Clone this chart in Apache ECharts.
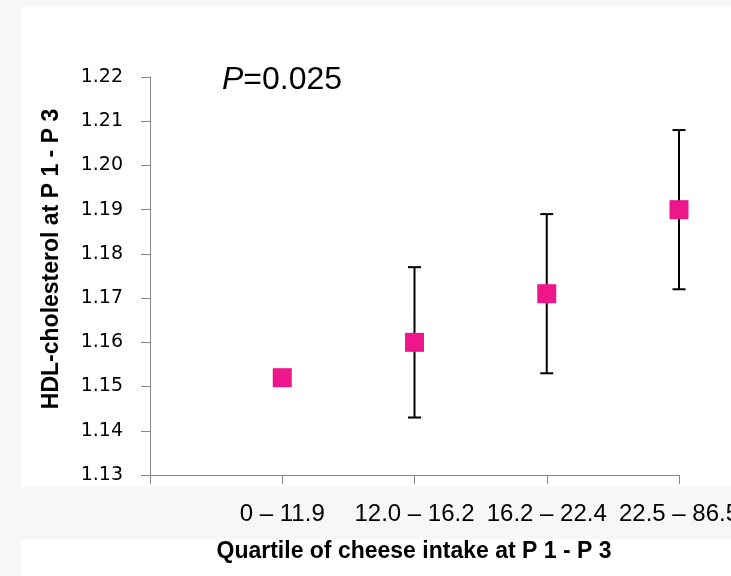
<!DOCTYPE html>
<html>
<head>
<meta charset="utf-8">
<script src="https://cdn.jsdelivr.net/npm/echarts@6/dist/echarts.min.js"></script>
<style>
  html, body { margin: 0; padding: 0; background: #f7f7f7; }
  #chart { width: 731px; height: 576px; }
</style>
</head>
<body>
<div id="chart"></div>
<script>
// Quartiles of cheese intake (x categories)
const categories = ['0 \u2013 11.9', '12.0 \u2013 16.2', '16.2 \u2013 22.4', '22.5 \u2013 86.5'];
// Mean HDL-cholesterol per quartile
const means = [1.152, 1.160, 1.171, 1.190];
// Error bar limits (none drawn for the first quartile)
const lowerLimits = [null, 1.143, 1.153, 1.172];
const upperLimits = [null, 1.177, 1.189, 1.208];
// Y axis range
const yMin = 1.13, yMax = 1.22, yStep = 0.01;

const pointData = means.map((v, i) => [i + 1, v]);
const errorData = means
  .map((v, i) => [i + 1, lowerLimits[i], upperLimits[i]])
  .filter(d => d[1] != null && d[2] != null);

const axisColor = '#868686';
const chart = echarts.init(document.getElementById('chart'), null, { renderer: 'canvas' });

chart.setOption({
  backgroundColor: '#f7f7f7',
  animation: false,
  grid: { left: 150, right: 52, top: 77, bottom: 101, containLabel: false, outerBoundsMode: 'none' },
  xAxis: {
    type: 'value',
    min: 0, max: categories.length, interval: 1,
    splitLine: { show: false },
    axisLine: { lineStyle: { color: axisColor, width: 1 } },
    axisTick: { show: true, length: 9, lineStyle: { color: axisColor, width: 1 } },
    axisLabel: {
      margin: 27,
      showMinLabel: true, showMaxLabel: true,
      hideOverlap: false,
      color: '#000',
      fontFamily: 'Liberation Sans',
      fontSize: 24,
      formatter: v => (v >= 1 && v <= categories.length) ? categories[v - 1] : ''
    }
  },
  yAxis: {
    type: 'value',
    min: yMin, max: yMax, interval: yStep,
    splitLine: { show: false },
    axisLine: { show: true, lineStyle: { color: axisColor, width: 1 } },
    axisTick: { show: true, length: 9, lineStyle: { color: axisColor, width: 1 } },
    axisLabel: {
      margin: 27,
      color: '#000',
      fontFamily: 'DejaVu Sans',
      fontSize: 19,
      formatter: v => v.toFixed(2)
    }
  },
  graphic: [
    { type: 'rect', z: -100, silent: true, shape: { x: 21, y: 7, width: 710, height: 480 }, style: { fill: '#ffffff' } },
    { type: 'rect', z: -100, silent: true, shape: { x: 21, y: 539, width: 710, height: 37 }, style: { fill: '#ffffff' } },
    {
      type: 'text', x: 222, y: 80, z: 10,
      style: {
        text: '{i|P}=0.025',
        font: '32px "Liberation Sans"',
        fill: '#000',
        verticalAlign: 'middle',
        rich: { i: { fontStyle: 'italic', fontSize: 32, fontFamily: 'Liberation Sans' } }
      }
    },
    {
      type: 'text', x: 52, y: 259, rotation: Math.PI / 2, z: 10,
      style: {
        text: 'HDL-cholesterol at P 1 - P 3',
        font: 'bold 23px "Liberation Sans"',
        fill: '#000', align: 'center', verticalAlign: 'middle'
      }
    },
    {
      type: 'text', x: 414, y: 552, z: 10,
      style: {
        text: 'Quartile of cheese intake at P 1 - P 3',
        font: 'bold 23px "Liberation Sans"',
        fill: '#000', align: 'center', verticalAlign: 'middle'
      }
    }
  ],
  series: [
    {
      type: 'custom',
      z: 3,
      data: errorData,
      renderItem: (params, api) => {
        const x = api.value(0);
        const lo = api.coord([x, api.value(1)]);
        const hi = api.coord([x, api.value(2)]);
        const half = 6.5;
        const style = { stroke: '#000', lineWidth: 2 };
        return {
          type: 'group',
          children: [
            { type: 'line', shape: { x1: lo[0], y1: lo[1], x2: hi[0], y2: hi[1] }, style },
            { type: 'line', shape: { x1: lo[0] - half, y1: lo[1], x2: lo[0] + half, y2: lo[1] }, style },
            { type: 'line', shape: { x1: hi[0] - half, y1: hi[1], x2: hi[0] + half, y2: hi[1] }, style }
          ]
        };
      }
    },
    {
      type: 'scatter',
      z: 4,
      data: pointData,
      symbol: 'rect',
      symbolSize: 19,
      itemStyle: { color: '#ed168b', opacity: 1 }
    }
  ]
});
</script>
</body>
</html>
